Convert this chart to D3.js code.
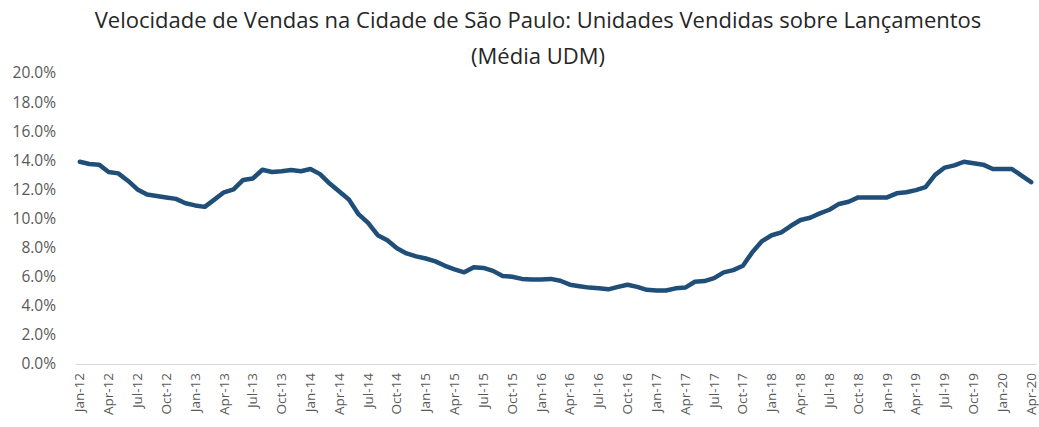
<!DOCTYPE html>
<html>
<head>
<meta charset="utf-8">
<script src="https://cdn.jsdelivr.net/npm/d3@7"></script>
<style>
  html, body { margin: 0; padding: 0; background: #fff; }
  svg { display: block; }
</style>
</head>
<body>
<svg id="chart" width="1039" height="427"></svg>
<script>
// Monthly sales velocity (units sold / launches, 12-month average), Jan-2012 .. Apr-2020
const monthNames = ["Jan", "Feb", "Mar", "Apr", "May", "Jun", "Jul", "Aug", "Sep", "Oct", "Nov", "Dec"];
const startYear = 2012;

const velocity = [
  13.9, 13.75, 13.7, 13.2, 13.1, 12.6, 12.0, 11.65, 11.55, 11.45, 11.35, 11.05,
  10.9, 10.8, 11.3, 11.8, 12.0, 12.65, 12.75, 13.35, 13.2, 13.25, 13.33, 13.25,
  13.4, 13.05, 12.4, 11.85, 11.3, 10.3, 9.7, 8.85, 8.5, 7.95, 7.6, 7.4,
  7.25, 7.05, 6.75, 6.5, 6.3, 6.65, 6.6, 6.4, 6.05, 6.0, 5.85, 5.8,
  5.8, 5.85, 5.72, 5.45, 5.35, 5.25, 5.2, 5.13, 5.3, 5.45, 5.3, 5.1,
  5.05, 5.05, 5.2, 5.25, 5.65, 5.7, 5.9, 6.3, 6.45, 6.75, 7.7, 8.45,
  8.85, 9.05, 9.5, 9.9, 10.05, 10.35, 10.6, 11.0, 11.15, 11.45, 11.45, 11.45,
  11.45, 11.73, 11.8, 11.95, 12.15, 13.0, 13.5, 13.65, 13.9, 13.8, 13.7, 13.4,
  13.4, 13.4, 12.95, 12.5
];

// Category labels such as "Jan-12"
const months = velocity.map((_, i) =>
  monthNames[i % 12] + "-" + String((startYear + Math.floor(i / 12)) % 100).padStart(2, "0"));

// Every third month is labelled on the axis
const tickLabels = months.filter((_, i) => i % 3 === 0);

const yTicks = [0, 2, 4, 6, 8, 10, 12, 14, 16, 18, 20];

const titleLines = [
  "Velocidade de Vendas na Cidade de São Paulo: Unidades Vendidas sobre Lançamentos",
  "(Média UDM)"
];

const svg = d3.select("#chart");
const margin = { left: 75, right: 3, top: 73, bottom: 63 };
const W = 1039, H = 427;

const x = d3.scalePoint()
  .domain(months)
  .range([margin.left, W - margin.right])
  .padding(0.5);

const y = d3.scaleLinear()
  .domain([0, 20])
  .range([H - margin.bottom, margin.top]);

// Title
svg.append("g")
  .selectAll("text")
  .data(titleLines)
  .join("text")
  .attr("x", 538)
  .attr("y", (d, i) => 28 + i * 36)
  .attr("text-anchor", "middle")
  .attr("font-family", "'Open Sans', sans-serif")
  .attr("font-size", 22)
  .attr("fill", "#262626")
  .text(d => d);

// Y axis (labels only)
const yAxis = d3.axisLeft(y)
  .tickValues(yTicks)
  .tickFormat(d => d.toFixed(1) + "%")
  .tickSize(0)
  .tickPadding(0);

svg.append("g")
  .attr("transform", `translate(56,0)`)
  .call(yAxis)
  .call(g => g.select(".domain").remove())
  .call(g => g.selectAll("text")
    .attr("font-family", "'Open Sans', sans-serif")
    .attr("font-size", 15.5)
    .attr("fill", "#595959"));

// X axis with rotated month labels
const xAxis = d3.axisBottom(x)
  .tickValues(tickLabels)
  .tickSize(0)
  .tickPadding(0);

svg.append("g")
  .attr("transform", `translate(0,${y(0)})`)
  .call(xAxis)
  .call(g => g.select(".domain")
    .attr("stroke", "#d9d9d9")
    .attr("stroke-width", 1))
  .call(g => g.selectAll("text")
    .attr("font-family", "'Open Sans', sans-serif")
    .attr("font-size", 13.5)
    .attr("fill", "#595959")
    .attr("transform", "rotate(-90)")
    .attr("text-anchor", "end")
    .attr("x", -9)
    .attr("y", 0)
    .attr("dy", "0.3em"));

// Series line
const line = d3.line()
  .x((d, i) => x(months[i]))
  .y(d => y(d))
  .curve(d3.curveLinear);

svg.append("path")
  .datum(velocity)
  .attr("d", line)
  .attr("fill", "none")
  .attr("stroke", "#1f4e79")
  .attr("stroke-width", 4.5)
  .attr("stroke-linejoin", "round")
  .attr("stroke-linecap", "round");
</script>
</body>
</html>
